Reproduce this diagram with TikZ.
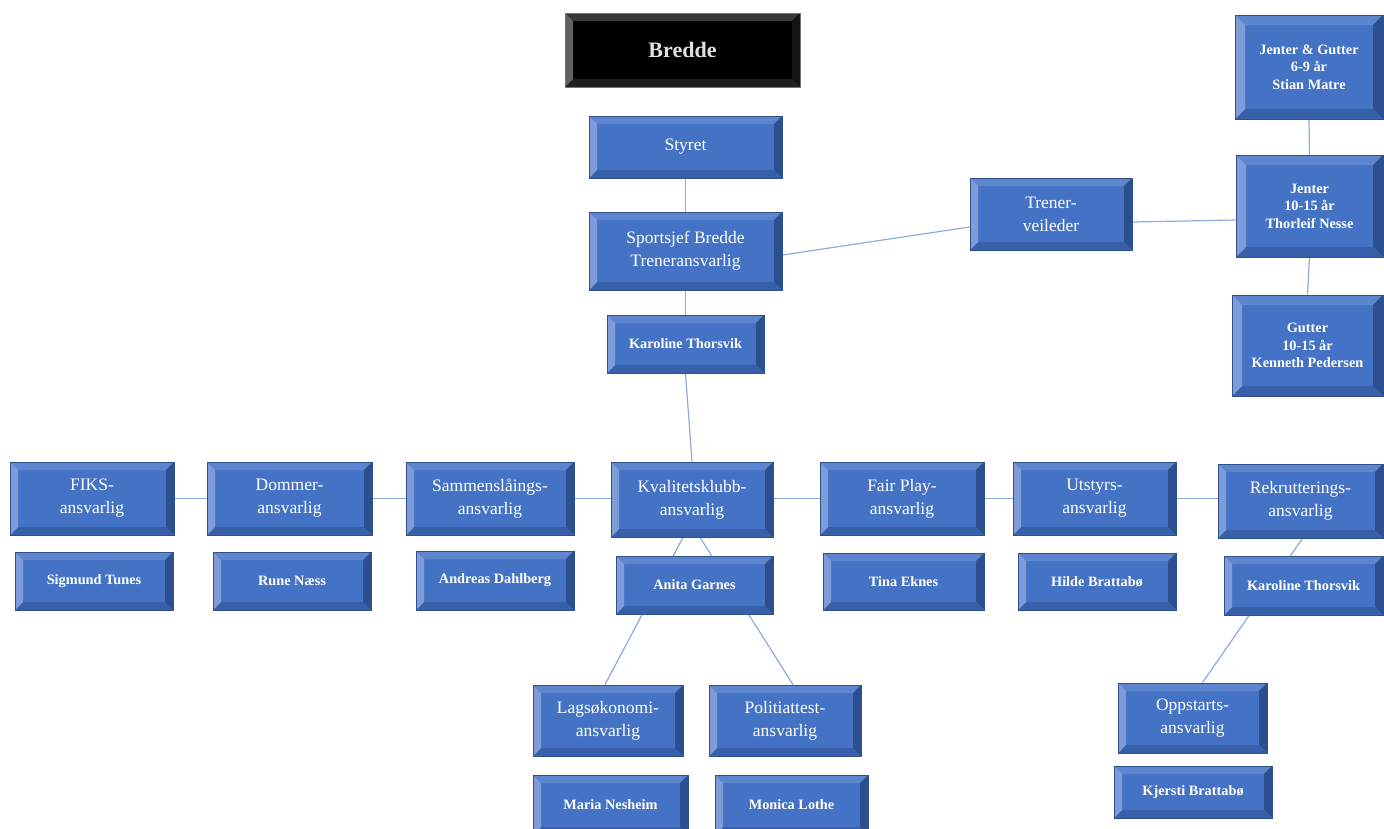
\documentclass[tikz,border=0pt]{standalone}
\usepackage{fontspec}
\setmainfont{Liberation Serif}
\usetikzlibrary{backgrounds}
\definecolor{face}{HTML}{4472C4}
\definecolor{bvtop}{HTML}{5E86CF}
\definecolor{bvleft}{HTML}{7E9CD8}
\definecolor{bvright}{HTML}{2C4F90}
\definecolor{bvbot}{HTML}{3760A8}
\definecolor{edge}{HTML}{2F528F}
\definecolor{conn}{HTML}{8FAADC}
\def\bvT{bvtop}\def\bvR{bvright}\def\bvB{bvbot}\def\bvL{bvleft}\def\bevw{8pt}
\tikzset{
  bvset/.code n args={4}{\def\bvT{#1}\def\bvR{#2}\def\bvB{#3}\def\bvL{#4}},
  bw/.code={\def\bevw{#1}},
  bevel/.style n args={2}{rectangle, inner sep=0pt, align=center, text=white,
    minimum width=#1, minimum height=#2, fill=face, draw=edge, line width=0.8pt,
    path picture={
      \path (path picture bounding box.north west) coordinate (ppa)
            (path picture bounding box.north east) coordinate (ppb)
            (path picture bounding box.south east) coordinate (ppc)
            (path picture bounding box.south west) coordinate (ppd);
      \fill[fill=\bvT] (ppa) -- (ppb) -- ([xshift=-\bevw,yshift=-\bevw]ppb) -- ([xshift=\bevw,yshift=-\bevw]ppa) -- cycle;
      \fill[fill=\bvR] (ppb) -- (ppc) -- ([xshift=-\bevw,yshift=\bevw]ppc) -- ([xshift=-\bevw,yshift=-\bevw]ppb) -- cycle;
      \fill[fill=\bvB] (ppc) -- (ppd) -- ([xshift=\bevw,yshift=\bevw]ppd) -- ([xshift=-\bevw,yshift=\bevw]ppc) -- cycle;
      \fill[fill=\bvL] (ppd) -- (ppa) -- ([xshift=\bevw,yshift=-\bevw]ppa) -- ([xshift=\bevw,yshift=\bevw]ppd) -- cycle;
    }},
  big/.style={font=\fontsize{17.5}{23}\selectfont},
  small/.style={font=\fontsize{14.3}{17.5}\selectfont\bfseries},
  link/.style={draw=conn, line width=1.2pt},
}
\begin{document}
\begin{tikzpicture}[x=1pt,y=-1pt]
\useasboundingbox (0,0) rectangle (1384,828);
\clip (0,0) rectangle (1384,828);
% top column
\node[bevel={235pt}{74pt}, bvset={black!78}{black!92}{black!88}{black!62}, draw=black!55, fill=black, text=black!12,
  font=\fontsize{22}{26}\selectfont\bfseries] (bredde) at (682.5,50) {Bredde};
\node[bevel={193pt}{62pt}, big] (styret) at (685.5,147) {Styret};
\node[bevel={193pt}{78pt}, big] (sport) at (685.5,251) {Sportsjef Bredde\\Treneransvarlig};
\node[bevel={157pt}{58pt}, small] (karo1) at (685.5,344) {Karoline Thorsvik};
\node[bevel={162pt}{72pt}, big] (trener) at (1051,214) {Trener-\\veileder};
\node[bevel={148pt}{104pt}, small, bw=10pt] (jg69) at (1309,67) {Jenter \& Gutter\\6-9 år\\Stian Matre};
\node[bevel={147pt}{102pt}, small, bw=10pt] (j1015) at (1309.5,206) {Jenter\\10-15 år\\Thorleif Nesse};
\node[bevel={151pt}{101pt}, small, bw=10pt] (g1015) at (1307.5,345.5) {Gutter\\10-15 år\\Kenneth Pedersen};
% middle row
\node[bevel={164pt}{73pt}, big] (fiks) at (92,498.5) {FIKS-\\ansvarlig};
\node[bevel={165pt}{73pt}, big] (dommer) at (289.5,498.5) {Dommer-\\ansvarlig};
\node[bevel={168pt}{73pt}, big] (sammen) at (490,498.5) {Sammenslåings-\\ansvarlig};
\node[bevel={162pt}{75pt}, big] (kval) at (692,499.5) {Kvalitetsklubb-\\ansvarlig};
\node[bevel={164pt}{73pt}, big] (fair) at (902,498.5) {Fair Play-\\ansvarlig};
\node[bevel={163pt}{73pt}, big] (utstyr) at (1094.5,498.5) {Utstyrs-\\ansvarlig};
\node[bevel={165pt}{74pt}, big] (rekrut) at (1300.5,501) {Rekrutterings-\\ansvarlig};
% names row
\node[bevel={158pt}{58pt}, small] (sigmund) at (94,581) {Sigmund Tunes};
\node[bevel={158pt}{58pt}, small] (rune) at (292,581) {Rune Næss};
\node[bevel={158pt}{59pt}, small] (andreas) at (495,580.5) {Andreas Dahlberg};
\node[bevel={161pt}{57pt}, small] (tina) at (903.5,581.5) {Tina Eknes};
\node[bevel={158pt}{57pt}, small] (hilde) at (1097,581.5) {Hilde Brattabø};
% lower
\node[bevel={150pt}{71pt}, big] (lagso) at (608,720.5) {Lagsøkonomi-\\ansvarlig};
\node[bevel={152pt}{71pt}, big] (politi) at (785,720.5) {Politiattest-\\ansvarlig};
\node[bevel={155pt}{60pt}, small] (maria) at (610.5,805) {Maria Nesheim};
\node[bevel={153pt}{60pt}, small] (monica) at (791.5,805) {Monica Lothe};
\node[bevel={149pt}{70pt}, big] (oppst) at (1192.5,718) {Oppstarts-\\ansvarlig};
\node[bevel={158pt}{52pt}, small] (kjersti) at (1193,792) {Kjersti Brattabø};
% connectors (behind boxes)
\begin{scope}[on background layer]
\draw[link] (styret.south) -- (sport.north);
\draw[link] (sport.south) -- (karo1.north);
\draw[link] (karo1.south) -- (kval.north);
\draw[link] ([yshift=-4pt]sport.east) -- ([yshift=-13pt]trener.west);
\draw[link] ([yshift=-8pt]trener.east) -- ([yshift=-14pt]j1015.west);
\draw[link] (jg69.south) -- (j1015.north);
\draw[link] (j1015.south) -- (g1015.north);
\draw[link] (fiks.east) -- (dommer.west);
\draw[link] (dommer.east) -- (sammen.west);
\draw[link] (sammen.east) -- (sammen.east -| kval.west);
\draw[link] (kval.east |- fair.west) -- (fair.west);
\draw[link] (fair.east) -- (utstyr.west);
\draw[link] (utstyr.east) -- (utstyr.east -| rekrut.west);
\draw[link] ([xshift=-9pt]kval.south) -- ([xshift=-3pt]lagso.north);
\draw[link] ([xshift=8pt]kval.south) -- ([xshift=8pt]politi.north);
\draw[link] ([xshift=2pt]rekrut.south) -- ([xshift=10pt]oppst.north);
\end{scope}
% boxes drawn over the through-lines
\node[bevel={157pt}{58pt}, small] (anita) at (694.5,585) {Anita Garnes};
\node[bevel={159pt}{59pt}, small] (karo2) at (1303.5,585.5) {Karoline Thorsvik};
\end{tikzpicture}
\end{document}
